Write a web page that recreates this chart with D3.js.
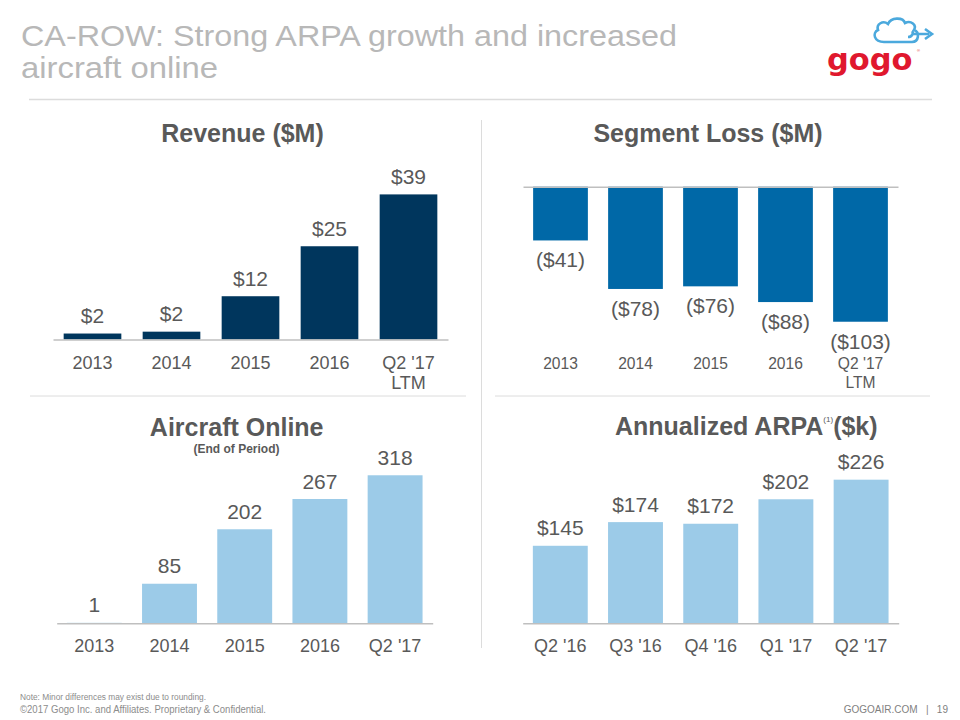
<!DOCTYPE html>
<html><head><meta charset="utf-8">
<script src="https://cdn.jsdelivr.net/npm/d3@7"></script>
<style>
body{margin:0;background:#fff;}
svg{display:block;font-family:"Liberation Sans",Arial,Helvetica,sans-serif;}
</style>
</head><body>
<svg id="chart" width="960" height="720"></svg>
<script>
// ---------- DATA ----------
const revenueCategories = ["2013", "2014", "2015", "2016", "Q2 '17\nLTM"];
const revenueValues = [1.6, 2.1, 11.6, 25.0, 38.9];

const lossCategories = ["2013", "2014", "2015", "2016", "Q2 '17\nLTM"];
const lossValues = [-41, -78, -76, -88, -103];

const aircraftCategories = ["2013", "2014", "2015", "2016", "Q2 '17"];
const aircraftValues = [1, 85, 202, 267, 318];

const arpaCategories = ["Q2 '16", "Q3 '16", "Q4 '16", "Q1 '17", "Q2 '17"];
const arpaValues = [145, 174, 172, 202, 226];

// ---------- STYLE ----------
const textGray = "#595959";
const axisGray = "#bfbfbf";
const svg = d3.select("#chart");

// Header
svg.append("text").attr("x", 21).attr("y", 46)
  .attr("font-size", 29).attr("fill", "#b8b8b8")
  .attr("textLength", 656).attr("lengthAdjust", "spacingAndGlyphs")
  .text("CA-ROW: Strong ARPA growth and increased");
svg.append("text").attr("x", 21).attr("y", 78)
  .attr("font-size", 29).attr("fill", "#b8b8b8")
  .attr("textLength", 197).attr("lengthAdjust", "spacingAndGlyphs")
  .text("aircraft online");
svg.append("line").attr("x1", 29).attr("x2", 932).attr("y1", 99.5).attr("y2", 99.5)
  .attr("stroke", "#dcdcdc").attr("stroke-width", 1.5);

// Logo
const logo = svg.append("g");
logo.append("path")
  .attr("d", "M884,42 C874,42 872,33 878,30 C876,24 883,20 888,24 C891,17 903,17 905,23 C911,20 917,25 914,30 C920,32 919,42 912,42 Z")
  .attr("fill", "none").attr("stroke", "#4ba9dd").attr("stroke-width", 2.6);
logo.append("path").attr("d", "M908,37 C912,37 914,33 912,31 M912,34 L929,34")
  .attr("fill", "none").attr("stroke", "#4ba9dd").attr("stroke-width", 2.6);
logo.append("path").attr("d", "M925,29 L932,34 L925,39")
  .attr("fill", "none").attr("stroke", "#4ba9dd").attr("stroke-width", 2.6);
logo.append("text").attr("x", 827).attr("y", 70)
  .attr("font-family", "'DejaVu Sans',sans-serif").attr("font-weight", "bold")
  .attr("font-size", 30.5).attr("fill", "#e0182e")
  .text("gogo");
logo.append("text").attr("x", 917).attr("y", 52).attr("font-size", 4).attr("fill", "#e0182e").text("®");

// Dividers
svg.append("line").attr("x1", 481.5).attr("x2", 481.5).attr("y1", 120).attr("y2", 648)
  .attr("stroke", "#dcdcdc").attr("stroke-width", 1);
svg.append("line").attr("x1", 30).attr("x2", 466).attr("y1", 396).attr("y2", 396)
  .attr("stroke", "#dcdcdc").attr("stroke-width", 1);
svg.append("line").attr("x1", 495).attr("x2", 930).attr("y1", 396).attr("y2", 396)
  .attr("stroke", "#dcdcdc").attr("stroke-width", 1);

// ---------- CHART HELPER ----------
function barChart(o) {
  const g = svg.append("g");
  const x = d3.scaleBand().domain(o.cats).range(o.xRange).paddingInner(0.27).paddingOuter(0.135);
  const y = d3.scaleLinear().domain(o.yDomain).range(o.yRange);
  const base = y(o.base);

  g.selectAll("rect.bar").data(o.vals).join("rect")
    .attr("class", "bar")
    .attr("x", (d, i) => x(o.cats[i]))
    .attr("width", x.bandwidth())
    .attr("y", d => Math.min(y(d), base))
    .attr("height", d => Math.abs(y(d) - base))
    .attr("fill", o.color);

  // baseline axis line
  const axisLine = g.append("g").attr("transform", `translate(0,${base})`)
    .call(d3.axisBottom(x).tickSize(0).tickSizeOuter(0).tickFormat(""));
  axisLine.select(".domain").attr("stroke", axisGray).attr("stroke-width", 1.6);
  axisLine.selectAll(".tick").remove();

  // value labels
  g.selectAll("text.val").data(o.vals).join("text")
    .attr("class", "val")
    .attr("x", (d, i) => x(o.cats[i]) + x.bandwidth() / 2)
    .attr("y", d => d < 0 ? y(d) + 27 : y(d) - 10.5)
    .attr("text-anchor", "middle")
    .attr("font-size", 21).attr("fill", textGray)
    .text(o.fmt);

  // category labels
  const cat = g.append("g").attr("transform", `translate(0,${o.catY})`)
    .call(d3.axisBottom(x).tickSize(0).tickPadding(0));
  cat.select(".domain").remove();
  cat.selectAll(".tick text").each(function(d) {
    const t = d3.select(this);
    t.text(null).attr("y", 0).attr("dy", 0)
      .attr("font-size", o.catSize).attr("fill", textGray)
      .attr("font-family", "'Liberation Sans',Arial,sans-serif");
    d.split("\n").forEach((line, k) => {
      t.append("tspan").attr("x", 0).attr("y", k * o.catLineH).text(line);
    });
  });
  return g;
}

function title(txt, cx, yb) {
  return svg.append("text").attr("x", cx).attr("y", yb).attr("text-anchor", "middle")
    .attr("font-size", 25).attr("font-weight", "bold").attr("fill", textGray).text(txt);
}

// ---------- CHARTS ----------
title("Revenue ($M)", 242.5, 142);
barChart({
  cats: revenueCategories, vals: revenueValues,
  xRange: [53, 448], yDomain: [0, 45], yRange: [339.5, 339.5 - 45 * 3.73], base: 0,
  color: "#00365d", fmt: d => "$" + Math.round(d),
  catY: 368.5, catSize: 18, catLineH: 20
});

title("Segment Loss ($M)", 708, 142);
barChart({
  cats: lossCategories, vals: lossValues,
  xRange: [523, 898], yDomain: [-110, 0], yRange: [186.7 + 110 * 1.311, 186.7], base: 0,
  color: "#0068a7", fmt: d => "($" + Math.abs(d) + ")",
  catY: 369, catSize: 15.6, catLineH: 19
});

title("Aircraft Online", 236.7, 436);
svg.append("text").attr("x", 236.5).attr("y", 453.3).attr("text-anchor", "middle")
  .attr("font-size", 12).attr("font-weight", "bold").attr("fill", textGray).text("(End of Period)");
barChart({
  cats: aircraftCategories, vals: aircraftValues,
  xRange: [56.7, 432.7], yDomain: [0, 350], yRange: [623.3, 623.3 - 350 * 0.4655], base: 0,
  color: "#9ccbe8", fmt: d => String(d),
  catY: 651.7, catSize: 18, catLineH: 20
});

const at = svg.append("text").attr("x", 615).attr("y", 435)
  .attr("font-size", 25).attr("font-weight", "bold").attr("fill", textGray);
at.append("tspan").text("Annualized ARPA");
at.append("tspan").attr("font-size", 8).attr("font-weight", "normal").attr("dy", -13).text("(1)");
at.append("tspan").attr("dy", 13).text("($k)");
barChart({
  cats: arpaCategories, vals: arpaValues,
  xRange: [522.7, 898.7], yDomain: [50, 250], yRange: [623.3, 623.3 - 200 * 0.816], base: 50,
  color: "#9ccbe8", fmt: d => "$" + d,
  catY: 651.7, catSize: 18, catLineH: 20
});

// ---------- FOOTER ----------
svg.append("text").attr("x", 20).attr("y", 700).attr("font-size", 8.5).attr("fill", "#8c8c8c")
  .attr("textLength", 186).attr("lengthAdjust", "spacingAndGlyphs")
  .text("Note: Minor differences may exist due to rounding.");
svg.append("text").attr("x", 20).attr("y", 713).attr("font-size", 10).attr("fill", "#8c8c8c")
  .attr("textLength", 246).attr("lengthAdjust", "spacingAndGlyphs")
  .text("©2017 Gogo Inc. and Affiliates. Proprietary & Confidential.");
svg.append("text").attr("x", 948).attr("y", 713).attr("text-anchor", "end").attr("font-size", 10)
  .attr("fill", "#7f7f7f").text("GOGOAIR.COM   |   19").attr("xml:space", "preserve")
  .style("white-space", "pre");
</script>
</body></html>
